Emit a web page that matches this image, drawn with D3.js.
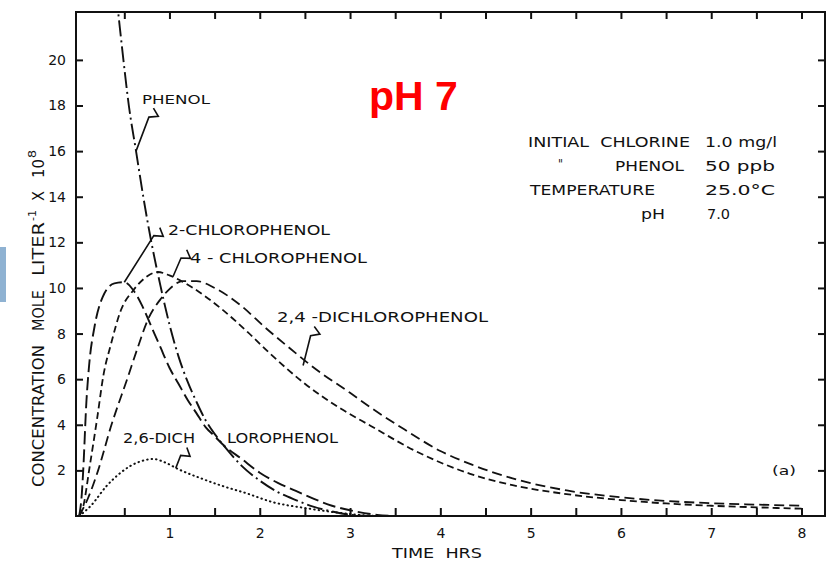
<!DOCTYPE html>
<html>
<head>
<meta charset="utf-8">
<script src="https://cdn.jsdelivr.net/npm/d3@7"></script>
<style>
  body { margin: 0; background: #fff; }
  svg { display: block; font-family: "DejaVu Sans", sans-serif; }
  .lbl { fill: #111; }
</style>
</head>
<body>
<svg id="chart" width="827" height="566"></svg>
<script>
// time (hrs), concentration (mole/liter x 1e8)
const phenol = [
  [0.38, 24], [0.44, 21.8], [0.49, 20], [0.55, 18], [0.63, 16], [0.71, 14],
  [0.8, 12], [0.9, 10.1], [1.0, 8.4], [1.1, 7.0], [1.2, 5.9], [1.3, 5.0],
  [1.4, 4.2], [1.5, 3.6], [1.6, 3.1], [1.8, 2.2], [2.0, 1.55], [2.2, 1.05],
  [2.4, 0.7], [2.6, 0.4], [2.8, 0.2], [3.0, 0.05], [3.2, 0],
];
const chloro2 = [
  [0, 0], [0.03, 1.0], [0.045, 2.0], [0.08, 5.0], [0.11, 6.6], [0.17, 8.3],
  [0.26, 9.6], [0.39, 10.2], [0.5, 10.25], [0.6, 9.9], [0.7, 9.2], [0.8, 8.3],
  [0.9, 7.4], [1.0, 6.5], [1.1, 5.8], [1.2, 5.1], [1.3, 4.5], [1.4, 3.9],
  [1.5, 3.5], [1.6, 3.1], [1.8, 2.5], [2.0, 1.9], [2.2, 1.45], [2.4, 1.1],
  [2.6, 0.75], [2.8, 0.45], [3.0, 0.25], [3.3, 0.05], [3.5, 0],
];
const chloro4 = [
  [0, 0], [0.05, 0.5], [0.11, 2.0], [0.2, 4.3], [0.27, 6.2], [0.35, 7.5],
  [0.46, 9.0], [0.6, 9.9], [0.75, 10.5], [0.87, 10.7], [1.0, 10.55],
  [1.24, 10.05], [1.57, 9.1], [1.87, 8.05], [2.12, 7.1], [2.5, 5.8], [2.9, 4.7],
  [3.23, 3.95], [3.7, 2.9], [4.33, 1.85], [4.8, 1.35], [5.36, 0.98], [6.0, 0.7],
  [6.5, 0.55], [7.0, 0.45], [7.5, 0.38], [8.0, 0.32],
];
const dichloro24 = [
  [0, 0], [0.1, 0.8], [0.21, 2.0], [0.35, 3.9], [0.54, 6.1], [0.65, 7.4],
  [0.76, 8.6], [0.9, 9.5], [1.0, 9.95], [1.15, 10.3], [1.3, 10.3], [1.5, 10.0],
  [1.8, 9.2], [2.05, 8.3], [2.35, 7.3], [2.6, 6.5], [3.0, 5.4], [3.25, 4.7],
  [3.6, 3.8], [4.0, 2.85], [4.35, 2.25], [4.8, 1.65], [5.4, 1.12], [6.0, 0.82],
  [6.5, 0.66], [7.0, 0.56], [7.5, 0.5], [8.0, 0.45],
];
const dichloro26 = [
  [0, 0], [0.13, 0.45], [0.3, 1.3], [0.46, 1.9], [0.57, 2.2], [0.7, 2.42],
  [0.82, 2.5], [0.95, 2.35], [1.1, 2.05], [1.35, 1.65], [1.6, 1.3],
  [1.85, 1.0], [2.15, 0.6], [2.5, 0.35], [2.8, 0.18], [3.1, 0.05], [3.3, 0],
];

const xTicks = d3.range(0.5, 8.01, 0.5);
const xLabels = [1, 2, 3, 4, 5, 6, 7, 8];
const yTicks = [2, 4, 6, 8, 10, 12, 14, 16, 18, 20];

const conditions = [
  ['INITIAL  CHLORINE', '1.0 mg/l'],
  ['PHENOL', '50 ppb'],
  ['TEMPERATURE', '25.0\u00b0C'],
  ['pH', '7.0'],
];

const svg = d3.select('#chart');
const plotL = 76, plotR = 825, plotT = 12, plotB = 516;

const x = d3.scaleLinear().domain([-0.035, 8.26]).range([plotL, plotR]);
const y = d3.scaleLinear().domain([0, 22.1]).range([plotB, plotT]);

// blue tab at left edge
svg.append('rect')
  .attr('x', 0).attr('y', 247).attr('width', 6).attr('height', 55)
  .attr('fill', '#8fb2d2');

svg.append('defs').append('clipPath').attr('id', 'plot')
  .append('rect')
  .attr('x', plotL).attr('y', plotT)
  .attr('width', plotR - plotL).attr('height', plotB - plotT);

// frame
svg.append('rect')
  .attr('x', plotL).attr('y', plotT)
  .attr('width', plotR - plotL).attr('height', plotB - plotT)
  .attr('fill', 'none').attr('stroke', '#111').attr('stroke-width', 2);

const styleAxis = (g) => {
  g.select('.domain').remove();
  g.selectAll('.tick line').attr('stroke', '#111').attr('stroke-width', 2);
  g.selectAll('text').attr('fill', '#111').attr('font-size', 14)
    .attr('font-family', '"DejaVu Sans", sans-serif');
};

// bottom: half-hour ticks, integer labels
svg.append('g')
  .attr('transform', `translate(0,${plotB})`)
  .call(d3.axisBottom(x).tickValues(xTicks).tickSize(-8).tickPadding(12)
    .tickFormat((d) => (xLabels.includes(d) ? d : '')))
  .call(styleAxis);

svg.append('g')
  .attr('transform', `translate(0,${plotT})`)
  .call(d3.axisTop(x).tickValues(xTicks).tickSize(-7).tickFormat(''))
  .call(styleAxis);

svg.append('g')
  .attr('transform', `translate(${plotL},0)`)
  .call(d3.axisLeft(y).tickValues(yTicks).tickSize(-7).tickPadding(10))
  .call(styleAxis);

svg.append('g')
  .attr('transform', `translate(${plotR},0)`)
  .call(d3.axisRight(y).tickValues(yTicks).tickSize(-7).tickFormat(''))
  .call(styleAxis);

// curves
const line = d3.line()
  .x((d) => x(d[0]))
  .y((d) => y(d[1]))
  .curve(d3.curveMonotoneX);

const series = [
  { data: phenol, dash: '16,4,2,4', width: 1.9 },
  { data: chloro2, dash: '13,5', width: 1.9 },
  { data: chloro4, dash: '7,4', width: 1.8 },
  { data: dichloro24, dash: '10,5', width: 1.8 },
  { data: dichloro26, dash: '0.5,4', width: 2, cap: 'round' },
];

const curves = svg.append('g').attr('clip-path', 'url(#plot)');
series.forEach((s) => {
  curves.append('path')
    .datum(s.data)
    .attr('d', line)
    .attr('fill', 'none')
    .attr('stroke', '#111')
    .attr('stroke-width', s.width)
    .attr('stroke-dasharray', s.dash)
    .attr('stroke-linecap', s.cap || 'butt');
});

// labels with "S" shaped pointers
function label(txt, lx, ly, len, size) {
  svg.append('text')
    .attr('class', 'lbl')
    .attr('x', lx).attr('y', ly)
    .attr('font-size', size || 14)
    .attr('textLength', len)
    .attr('lengthAdjust', 'spacingAndGlyphs')
    .style('white-space', 'pre')
    .text(txt);
}

function pointer(sx, sy, t, v) {
  const px = x(t), py = y(v);
  const ang = Math.atan2(py - sy, px - sx);
  const ux = Math.cos(ang), uy = Math.sin(ang);
  const nx = -uy, ny = ux;
  const p = d3.path();
  p.moveTo(sx + nx * 4, sy + ny * 4);
  p.lineTo(sx - nx * 4 + ux * 5, sy - ny * 4 + uy * 5);
  p.lineTo(sx + nx * 4 + ux * 10, sy + ny * 4 + uy * 10);
  p.lineTo(px, py);
  svg.append('path')
    .attr('d', p.toString())
    .attr('fill', 'none')
    .attr('stroke', '#111')
    .attr('stroke-width', 1.6);
}

label('PHENOL', 142, 104, 68, 12);
pointer(157, 110, 0.63, 16);
label('2-CHLOROPHENOL', 168, 235, 162);
pointer(163, 230, 0.5, 10.25);
label('4 - CHLOROPHENOL', 190, 263, 177);
pointer(190, 252, 1.04, 10.5);
label('2,4 -DICHLOROPHENOL', 277, 322, 211);
pointer(318, 328, 2.48, 6.6);
label('2,6-DICH', 123, 443, 72);
label('LOROPHENOL', 227, 443, 111);
pointer(190, 450, 1.07, 2.1);

// conditions block
label(conditions[0][0], 528, 147, 162);
label(conditions[0][1], 705, 147, 72);
label('"', 558, 168, 5, 12);
label(conditions[1][0], 615, 171, 69);
label(conditions[1][1], 705, 171, 70);
label(conditions[2][0], 530, 195, 125);
label(conditions[2][1], 705, 195, 70);
label(conditions[3][0], 641, 219, 24);
label(conditions[3][1], 707, 219, 23);

label('(a)', 772, 475, 24, 13);
label('TIME  HRS', 392, 558, 90);

// red heading
svg.append('text')
  .attr('x', 369).attr('y', 110)
  .attr('fill', '#ff0000')
  .attr('font-family', '"Liberation Sans", Arial, sans-serif')
  .attr('font-weight', 'bold')
  .attr('font-size', 41)
  .text('pH 7');

// y axis title, pieces placed along the rotated baseline
const yt = svg.append('g')
  .attr('transform', 'translate(44,487) rotate(-90)');
const ytPieces = [
  { s: 'CONCENTRATION', at: 0, len: 142 },
  { s: 'MOLE', at: 156, len: 41 },
  { s: 'LITER', at: 211, len: 54 },
  { s: '-1', at: 266, len: 11, sup: true },
  { s: 'X', at: 286, len: 10 },
  { s: '10', at: 309, len: 19 },
  { s: '8', at: 329, len: 8, sup: true },
];
ytPieces.forEach((p) => {
  yt.append('text')
    .attr('class', 'lbl')
    .attr('x', p.at)
    .attr('y', p.sup ? -8 : 0)
    .attr('font-size', p.sup ? 11 : 15)
    .attr('textLength', p.len)
    .attr('lengthAdjust', 'spacingAndGlyphs')
    .text(p.s);
});
</script>
</body>
</html>
